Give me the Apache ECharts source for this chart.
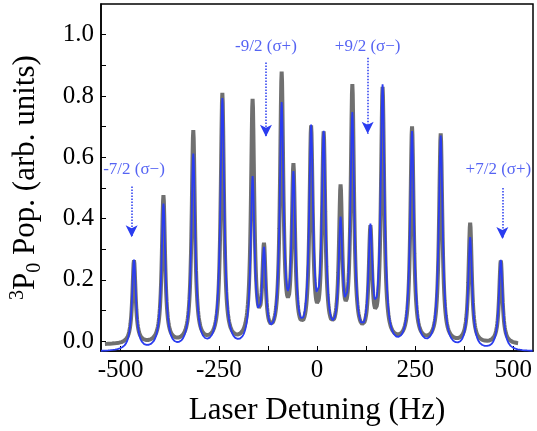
<!DOCTYPE html>
<html>
<head>
<meta charset="utf-8">
<script src="https://cdn.jsdelivr.net/npm/echarts@6/dist/echarts.min.js"></script>
<style>html,body{margin:0;padding:0;background:#fff}#main{width:537px;height:431px}</style>
</head>
<body>
<div id="main"></div>
<script>
// peak centres (Hz) and heights
var peakHz    = [-466, -391, -315, -241, -164, -135, -90, -60, -15, 17, 60, 90, 136, 167, 242, 315, 390, 468];
var fitPeak   = [0.26, 0.44, 0.60, 0.78, 0.51, 0.26, 0.74, 0.50, 0.66, 0.64, 0.35, 0.71, 0.33, 0.81, 0.67, 0.66, 0.33, 0.26];
var dataPeak  = [0.26, 0.47, 0.68, 0.80, 0.77, 0.28, 0.85, 0.54, 0.67, 0.65, 0.47, 0.81, 0.34, 0.81, 0.69, 0.67, 0.38, 0.26];
var arrowHz   = [-472, -130, 129, 472];
var arrowTop  = [0.505, 0.909, 0.925, 0.50];
var arrowEnd  = [0.339, 0.667, 0.677, 0.333];
var arrowText = ['-7/2 (σ−)', '-9/2 (σ+)', '+9/2 (σ−)', '+7/2 (σ+)'];
var arrowTextX = [-466, -130, 129, 462];
var arrowTextY = [0.56, 0.96, 0.96, 0.56];
var xLabels = [-500, -250, 0, 250, 500];
var yLabels = [0, 0.2, 0.4, 0.6, 0.8, 1.0];

// lorentzian line shapes through the read peaks
function curve(h, w, off, x0, x1) {
  var out = [];
  for (var x = x0; x <= x1; x += 1) {
    var y = off;
    for (var i = 0; i < peakHz.length; i++) {
      var d = (x - peakHz[i]) / w;
      y += (h[i] - off) / (1 + d * d);
    }
    out.push([x, y]);
  }
  return out;
}

var blue = '#2a3cf0';
var myChart = echarts.init(document.getElementById('main'));
var font = 'Liberation Serif';
var tick = {inside: true, length: 5, lineStyle: {color: '#000'}};
myChart.setOption({
  animation: false,
  grid: {left: 101, right: 4, top: 4, bottom: 76, show: true, borderColor: '#000', borderWidth: 1.5},
  xAxis: {
    type: 'value', min: -550, max: 550,
    name: 'Laser Detuning (Hz)', nameLocation: 'middle', nameGap: 44,
    nameTextStyle: {fontFamily: font, fontSize: 31, color: '#000'},
    axisLine: {onZero: false, lineStyle: {color: '#000', width: 1.5}},
    axisTick: Object.assign({customValues: [-500, -375, -250, -125, 0, 125, 250, 375, 500]}, tick),
    axisLabel: {customValues: xLabels, fontFamily: font, fontSize: 25, color: '#000', margin: 7},
    splitLine: {show: false}
  },
  yAxis: {
    type: 'value', min: -0.032, max: 1.1,
    name: '{sup|3}P{sub|0} Pop. (arb. units)', nameLocation: 'middle', nameGap: 56,
    nameTextStyle: {fontFamily: font, fontSize: 31, color: '#000',
      rich: {sup: {fontFamily: font, fontSize: 20, padding: [0, 0, 16, 0]},
             sub: {fontFamily: font, fontSize: 20, padding: [18, 0, 0, 0]}}},
    axisLine: {show: true, onZero: false, lineStyle: {color: '#000', width: 1.5}},
    axisTick: Object.assign({customValues: [0, 0.1, 0.2, 0.3, 0.4, 0.5, 0.6, 0.7, 0.8, 0.9, 1.0]}, tick),
    axisLabel: {customValues: yLabels, fontFamily: font, fontSize: 25, color: '#000', margin: 7,
      formatter: function (v) { return v.toFixed(1); }},
    splitLine: {show: false}
  },
  series: [
    {type: 'line', data: curve(dataPeak, 5, -0.012, -540, 512), showSymbol: false,
     lineStyle: {color: '#707070', width: 4}},
    {type: 'line', data: curve(fitPeak, 6, -0.035, -550, 550), showSymbol: false,
     lineStyle: {color: blue, width: 1.8},
     markLine: {silent: true, symbol: ['none', 'arrow'], symbolSize: [9, 12], label: {show: false},
       lineStyle: {color: blue, type: 'dotted', width: 1.5},
       data: arrowHz.map(function (x, i) { return [{coord: [x, arrowTop[i]]}, {coord: [x, arrowEnd[i]]}]; })}},
    {type: 'scatter', symbolSize: 0, clip: false,
     data: arrowTextX.map(function (x, i) { return [x, arrowTextY[i], arrowText[i]]; }),
     label: {show: true, position: 'inside', formatter: function (p) { return p.data[2]; },
       fontFamily: font, fontSize: 17, color: blue}}
  ]
});
</script>
</body>
</html>
